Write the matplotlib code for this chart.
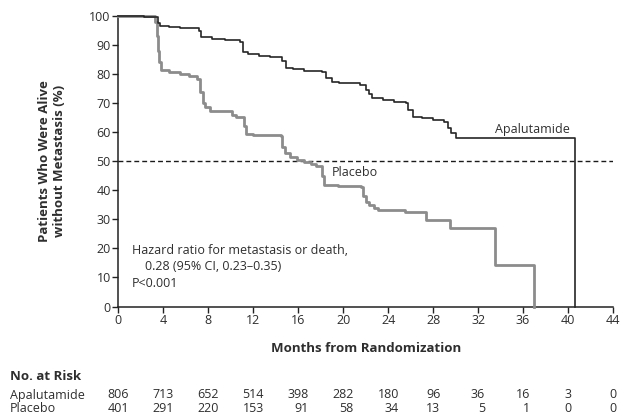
import matplotlib
matplotlib.use("Agg")
import matplotlib.pyplot as plt
import matplotlib.transforms as mtransforms

plt.rcParams["font.family"] = ["Open Sans", "DejaVu Sans"]

# Kaplan-Meier steps (months, % alive without metastasis)
apa_t = [0, 2.3, 3.5, 3.7, 4.5, 5.5, 7.2, 7.4, 8.3, 9.5, 10.8, 11.1, 11.5, 12.5, 13.5,
         14.6, 14.9, 15.5, 16.5, 18.1, 18.5, 19.0, 19.6, 21.5, 22.0, 22.3, 22.6, 23.5,
         24.5, 25.6, 25.8, 26.2, 27.0, 28.0, 29.0, 29.3, 29.6, 30.0, 40.6]
apa_s = [100, 99.6, 97.5, 96.6, 96.2, 95.9, 95.0, 92.6, 92.0, 91.6, 91.1, 87.5, 86.8, 86.2, 85.8,
         84.5, 82.1, 81.8, 81.2, 80.8, 78.5, 77.2, 76.8, 76.2, 74.5, 73.0, 71.9, 71.0,
         70.5, 69.9, 67.5, 65.3, 64.9, 64.3, 63.6, 61.5, 59.8, 57.9, 0]

pla_t = [0, 3.3, 3.4, 3.5, 3.6, 3.8, 4.5, 5.5, 6.3, 7.0, 7.3, 7.5, 7.7, 8.2, 10.1, 10.5,
         11.2, 11.4, 12.0, 14.5, 14.6, 14.8, 15.3, 15.9, 16.5, 17.1, 17.6, 18.1, 18.3, 19.5,
         21.6, 21.8, 22.0, 22.3, 22.7, 23.1, 25.5, 27.4, 29.5, 33.5, 37.0]
pla_s = [100, 98, 93, 88, 84, 81.4, 80.8, 80.2, 79.5, 78.4, 74, 70, 68.8, 67.3, 66.0, 65.3,
         62, 59.5, 59.0, 58.7, 55, 52.7, 51.5, 50.3, 49.6, 49.0, 48.3, 45, 41.8, 41.6,
         41.2, 38, 36, 34.9, 34.0, 33.2, 32.6, 29.8, 26.9, 14.3, 0]

risk_months = [0, 4, 8, 12, 16, 20, 24, 28, 32, 36, 40, 44]
risk_apa = [806, 713, 652, 514, 398, 282, 180, 96, 36, 16, 3, 0]
risk_pla = [401, 291, 220, 153, 91, 58, 34, 13, 5, 1, 0, 0]

W, H = 623, 416
fig = plt.figure(figsize=(W / 100, H / 100), dpi=100)
ax = fig.add_axes([118.3 / W, 1 - 306.5 / H, 494.7 / W, 290.5 / H])

txt = "#2e2e2e"

ax.step(pla_t, pla_s, where="post", color="#8c8c8c", lw=2.0, clip_on=False, zorder=3)
ax.step(apa_t, apa_s, where="post", color="#262626", lw=1.2, clip_on=False, zorder=4)
ax.plot([0, 44], [50, 50], color="#1a1a1a", lw=1.0, dashes=(3.5, 2.2), zorder=2)

ax.set_xlim(0, 44)
ax.set_ylim(0, 100)
ax.set_xticks(range(0, 45, 4))
ax.set_yticks(range(0, 101, 10))
for s in ["top", "right"]:
    ax.spines[s].set_visible(False)
for s in ["left", "bottom"]:
    ax.spines[s].set_linewidth(1.1)
    ax.spines[s].set_color("#222222")
ax.tick_params(direction="out", length=4, width=1.0, color="#222222",
               labelsize=9, labelcolor=txt, pad=1.5)

# labels
fig.text(366 / W, 1 - 348 / H, "Months from Randomization", ha="center", va="center",
         fontsize=9.5, fontweight="bold", color=txt)
fig.text(52 / W, 1 - 161 / H, "Patients Who Were Alive\nwithout Metastasis (%)",
         rotation=90, ha="center", va="center", multialignment="center",
         fontsize=9.5, fontweight="bold", color=txt, linespacing=1.15)

ax.text(33.5, 61, "Apalutamide", fontsize=9, color=txt, va="center")
ax.text(19.0, 46.1, "Placebo", fontsize=9, color=txt, va="center")

ax.text(1.2, 19.4, "Hazard ratio for metastasis or death,", fontsize=9, color=txt, va="center")
ax.text(2.35, 13.9, "0.28 (95% CI, 0.23\u20130.35)", fontsize=9, color=txt, va="center")
ax.text(1.2, 8.0, "P<0.001", fontsize=9, color=txt, va="center")

# risk table
fig.text(10 / W, 1 - 376 / H, "No. at Risk", fontsize=9.5, fontweight="bold",
         color=txt, va="center")
fig.text(10 / W, 1 - 395 / H, "Apalutamide", fontsize=9, color=txt, va="center")
fig.text(10 / W, 1 - 409 / H, "Placebo", fontsize=9, color=txt, va="center")

blend = mtransforms.blended_transform_factory(ax.transData, fig.transFigure)
digit_pt = 0.572 * 9
for m, a, p in zip(risk_months, risk_apa, risk_pla):
    n = max(len(str(a)), len(str(p)))
    off = mtransforms.ScaledTranslation(n * digit_pt / 2 / 72, 0, fig.dpi_scale_trans)
    ax.text(m, 1 - 395 / H, str(a), transform=blend + off, ha="right", va="center",
            fontsize=9, color=txt)
    ax.text(m, 1 - 409 / H, str(p), transform=blend + off, ha="right", va="center",
            fontsize=9, color=txt)

fig.savefig("out.png", dpi=100)
